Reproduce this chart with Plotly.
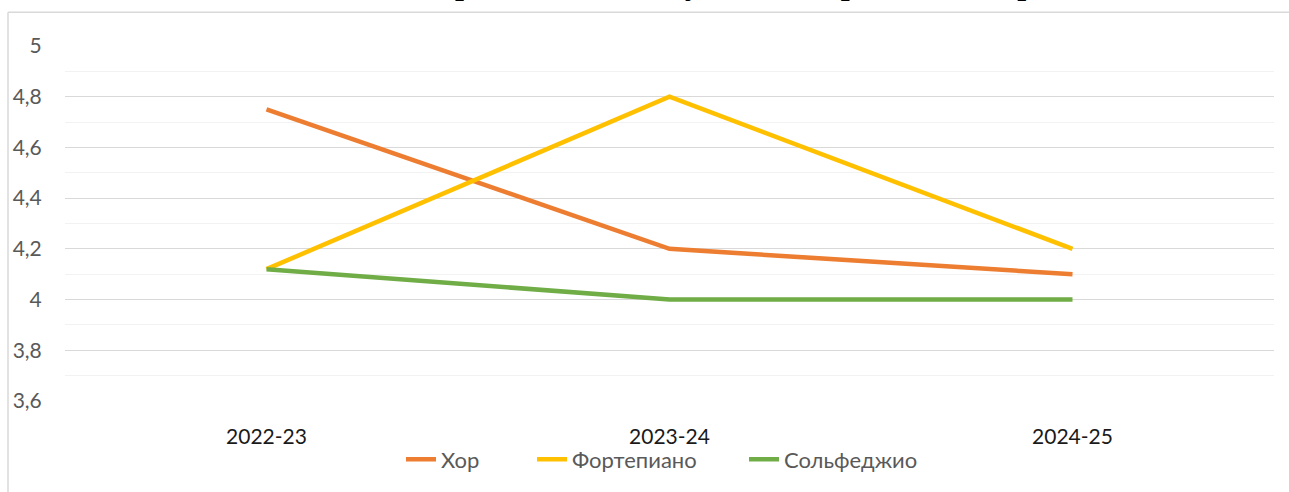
import plotly.graph_objects as go

years = ["2022-23", "2023-24", "2024-25"]
khor = [4.75, 4.2, 4.1]
fortepiano = [4.12, 4.8, 4.2]
solfedzhio = [4.12, 4.0, 4.0]
series_names = ["Хор", "Фортепиано", "Сольфеджио"]
colors = ["#ED7D31", "#FFC000", "#70AD47"]
y_tickvals = [3.6, 3.8, 4.0, 4.2, 4.4, 4.6, 4.8, 5.0]
y_ticktext = ["3,6", "3,8", "4", "4,2", "4,4", "4,6", "4,8", "5"]
title_text = "Средний балл по учебным предметам хорового отделения"

W, H = 1289, 492
L, R, T, B = 65, 15, 46, 88
pw, ph = W - L - R, H - T - B

def px_x(x):
    return (x - L) / pw

def px_y(y):
    return (H - B - y) / ph

legend_names = ["legend", "legend2", "legend3"]
legend_text_x = [445, 576, 788]

fig = go.Figure()
for name, vals, c, lg in zip(series_names, [khor, fortepiano, solfedzhio], colors, legend_names):
    fig.add_trace(go.Scatter(x=years, y=vals, mode="lines", name=name, legend=lg,
                             line=dict(color=c, width=4.5)))

legend_common = dict(orientation="h", yanchor="middle", y=px_y(463), xanchor="left",
                     bgcolor="rgba(0,0,0,0)", font=dict(size=22, color="#595959"),
                     itemwidth=30)

fig.update_layout(
    width=W, height=H,
    margin=dict(l=L, r=R, t=T, b=B),
    plot_bgcolor="white", paper_bgcolor="white",
    font=dict(family="Lato, Open Sans, sans-serif", size=21, color="#595959"),
    showlegend=True,
    legend=dict(legend_common, x=px_x(legend_text_x[0] - 44)),
    legend2=dict(legend_common, x=px_x(legend_text_x[1] - 44)),
    legend3=dict(legend_common, x=px_x(legend_text_x[2] - 44)),
    shapes=[
        dict(type="line", xref="paper", yref="paper", x0=px_x(8), x1=px_x(8), y0=px_y(12), y1=px_y(H + 5),
             line=dict(color="#D9D9D9", width=1.5)),
        dict(type="line", xref="paper", yref="paper", x0=px_x(8), x1=px_x(W + 5), y0=px_y(12), y1=px_y(12),
             line=dict(color="#D9D9D9", width=1.5)),
    ],
    annotations=[
        dict(text="<b>" + title_text + "</b>", xref="paper", yref="paper", x=px_x(430), xanchor="left",
             y=px_y(2.5), yanchor="bottom", showarrow=False,
             font=dict(family="Liberation Serif, Times New Roman, serif", size=32, color="#000000")),
    ],
)
fig.update_xaxes(type="category", range=[-0.5, 2.5], showgrid=False, showline=False, zeroline=False,
                 ticks="outside", ticklen=17, tickcolor="rgba(0,0,0,0)",
                 tickfont=dict(size=21, color="#1a1a1a"))
fig.update_yaxes(range=[3.6, 5.0], tickvals=y_tickvals, ticktext=y_ticktext,
                 showgrid=True, gridcolor="#D9D9D9", gridwidth=1.2, zeroline=False, showline=False,
                 ticks="outside", ticklen=18, tickcolor="rgba(0,0,0,0)",
                 tickfont=dict(size=21, color="#595959"),
                 minor=dict(dtick=0.1, showgrid=True, gridcolor="#F2F2F2", gridwidth=1))
fig.write_html("out.html", config={"displayModeBar": False},
               post_script="document.body.style.margin='0';document.body.style.overflow='hidden';")
